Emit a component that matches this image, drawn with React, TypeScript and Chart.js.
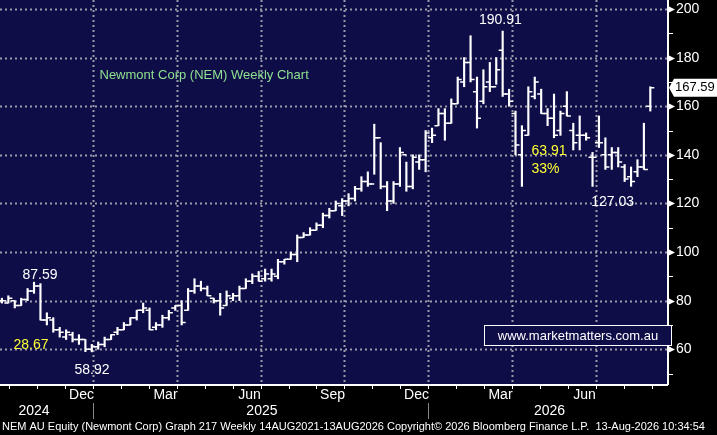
import React, { useEffect, useRef } from "react";
import { Chart, registerables } from "chart.js";
Chart.register(...registerables);

// Weekly OHLC
const highs = [81,82,80,81,85,87.59,87,75,73,69, 68,67,66,64,62,63,65,66,69,71, 73,76,79,77,71,74,76,78,80,85, 89,88,86,81,83,84,83,86,89,91, 92,93,93,97,97,100,107,108,110,112, 116,118,121,122,124, 127,131,133,152.6,145,129,129,143,137,140, 140,150,151,159,159,163,172,180,189,172, 175,178,180,190.91,167,158,152,168,172,167, 159,165,158,166,153,156,149,141,156,147, 143,143,136,135,138,153,168];
const lows = [79,79,77,78,80,83,72,70,67,65, 64,63,62,59,58.92,60,61,64,66,68, 70,72,75,68,68,69,72,76,70,76, 83,84,82,79,74,78,80,80,85,87, 88,88,88,89,95,97,96,106,107,109, 110,114,117,115,119, 121,125,127,132,126,117,120,127,125,126, 134,133,145,152,146,153,161,168,170,151, 161,166,169,164,160,140,127,148,163,157, 152,147,148,156,142,142,146,127,143,134, 134,135,129,127.03,131,134,158];
const opens = [80,79,80,78,80.5,84,86,72,72,68, 65,66,64,64,60,61,62,64,67,68, 70,73,76,76,69,70,73,77,78,76, 84,86,85,81,80,78,81,82,85,88, 90,89,89,90,96,97,99,106,107,109, 111,115,117,119,121, 122,126,129,128,147,127,121,128,140,127, 137,138,147,152,157,153,161,170,178,166, 162,170,168,183,165,157,140,148,164,165, 157,155,150,160,150,148,148,139,145,140, 140,141,135,131,133,135,160];
const closes = [80,81,78,80.5,84,86,72,73,68,67, 67,64,64,60,61,62,64,66,68,70, 73,76,77,68,70,73,75,78,71,84, 86,85,82,80,77,82,82,85,88,90, 88,91,91,96,97,99,106,107,109,111, 115,117,120,121,122, 126,129,128,147,127,121,128,141,127,139, 138,149,148,157,153,161,171,178,171,155, 168,168,175,165,162,144,150,166,170,157, 155,148,157,156,145,148,147,139,145,135, 141,137,130,129,135,134,167.59];
const N = closes.length;
const monthTicks = [1.15,5.5,9.85,14.2,18.55,22.9,27.25,31.6,35.95,40.3,44.65,49,53.35,57.7,62.05,66.4,70.75,75.1,79.45,83.8,88.15,92.5,96.85,101.2];
const monthLabels = ["","","","Dec","","","Mar","","","Jun","","","Sep","","","Dec","","","Mar","","","Jun","",""];
const yearLabels = [{ t: "2024", x: 5 }, { t: "2025", x: 40.5 }, { t: "2026", x: 85.3 }];
const yearSeps = [14.2, 66.4];
const yTicks = [60, 80, 100, 120, 140, 160, 180, 200];

const F = "'Liberation Sans', Arial, sans-serif";

export default function App() {
  const ref = useRef<HTMLCanvasElement>(null);
  useEffect(() => {
    document.body.style.margin = "0";
    const idx = Array.from({ length: N }, (_, i) => i);
    const plugin = {
      id: "ohlc",
      beforeDraw(c: any) {
        const { ctx, chartArea: a } = c;
        ctx.save();
        ctx.fillStyle = "#000";
        ctx.fillRect(0, 0, c.width, c.height);
        ctx.fillStyle = "#0e0d48";
        ctx.fillRect(a.left, a.top, a.right - a.left, a.bottom - a.top);
        const xs = c.scales.x, ys = c.scales.y;
        ctx.strokeStyle = "#9a9aa8";
        ctx.lineWidth = 2;
        ctx.setLineDash([2, 3]);
        yTicks.forEach((v) => {
          const y = Math.round(ys.getPixelForValue(v)) + 0.5;
          ctx.beginPath(); ctx.moveTo(a.left, y); ctx.lineTo(a.right, y); ctx.stroke();
        });
        monthTicks.forEach((m, i) => {
          if (!monthLabels[i]) return;
          const x = Math.round(xs.getPixelForValue(m)) + 0.5;
          ctx.beginPath(); ctx.moveTo(x, a.top); ctx.lineTo(x, a.bottom); ctx.stroke();
        });
        ctx.restore();
      },
      afterDatasetsDraw(c: any) {
        const { ctx, chartArea: a } = c;
        const xs = c.scales.x, ys = c.scales.y;
        ctx.save();
        ctx.strokeStyle = "#fff";
        ctx.lineWidth = 1.5;
        idx.forEach((i) => {
          const x = xs.getPixelForValue(i);
          const yo = ys.getPixelForValue(opens[i]);
          const yc = ys.getPixelForValue(closes[i]);
          ctx.beginPath();
          ctx.moveTo(x - 4, yo); ctx.lineTo(x, yo);
          ctx.moveTo(x, yc); ctx.lineTo(x + 4, yc);
          ctx.stroke();
        });
        ctx.lineWidth = 2;
        ctx.beginPath();
        ctx.moveTo(a.left, a.bottom + 1); ctx.lineTo(a.right + 1, a.bottom + 1);
        ctx.moveTo(a.right + 1, 0); ctx.lineTo(a.right + 1, a.bottom + 1);
        ctx.stroke();
        ctx.lineWidth = 1;
        ctx.fillStyle = "#fff";
        ctx.font = "14px " + F;
        ctx.textBaseline = "middle";
        for (let v = 50; v <= 200; v += 10) {
          const y = Math.round(ys.getPixelForValue(v)) + 0.5;
          ctx.beginPath(); ctx.moveTo(a.right, y); ctx.lineTo(a.right + 6, y); ctx.stroke();
          if (yTicks.includes(v)) {
            ctx.beginPath(); ctx.moveTo(a.right + 2, y - 3); ctx.lineTo(a.right + 8, y); ctx.lineTo(a.right + 2, y + 3); ctx.fill();
            ctx.textAlign = "left";
            ctx.fillText(String(v), a.right + 9, y);
          }
        }
        const lp = closes[N - 1];
        const yp = ys.getPixelForValue(lp);
        ctx.fillStyle = "#fff";
        ctx.beginPath();
        ctx.moveTo(a.right + 2, yp); ctx.lineTo(a.right + 7, yp - 9); ctx.lineTo(717, yp - 9); ctx.lineTo(717, yp + 9); ctx.lineTo(a.right + 7, yp + 9); ctx.closePath(); ctx.fill();
        ctx.fillStyle = "#000";
        ctx.font = "13px " + F;
        ctx.fillText(lp.toFixed(2), a.right + 8, yp);
        ctx.font = "14px " + F;
        ctx.strokeStyle = "#fff";
        ctx.fillStyle = "#fff";
        ctx.textAlign = "center";
        monthTicks.forEach((m, i) => {
          const x = Math.round(xs.getPixelForValue(m)) + 0.5;
          ctx.beginPath(); ctx.moveTo(x, a.bottom + 1); ctx.lineTo(x, a.bottom + 5); ctx.stroke();
          if (monthLabels[i]) ctx.fillText(monthLabels[i], x - 12, a.bottom + 11);
        });
        yearLabels.forEach((y) => ctx.fillText(y.t, xs.getPixelForValue(y.x), a.bottom + 27));
        ctx.strokeStyle = "#888";
        yearSeps.forEach((s) => {
          const x = Math.round(xs.getPixelForValue(s)) + 0.5;
          ctx.beginPath(); ctx.moveTo(x, a.bottom + 19); ctx.lineTo(x, a.bottom + 35); ctx.stroke();
        });
        ctx.textAlign = "left";
        ctx.font = "11px " + F;
        ctx.fillText("NEM AU Equity (Newmont Corp) Graph 217 Weekly 14AUG2021-13AUG2026 Copyright\u00a9 2026 Bloomberg Finance L.P.  13-Aug-2026 10:34:54", 2, 427);
        const t = (s: string, xi: number, v: number, col: string) => { ctx.fillStyle = col; ctx.fillText(s, xs.getPixelForValue(xi), ys.getPixelForValue(v)); };
        ctx.font = "13px " + F;
        t("Newmont Corp (NEM) Weekly Chart", 15.2, 172.5, "#8fe08f");
        ctx.font = "14px " + F;
        t("87.59", 3.2, 90.5, "#fff");
        t("28.67", 1.8, 61.5, "#ffff33");
        t("58.92", 11.3, 51.5, "#fff");
        t("190.91", 74.3, 195.5, "#fff");
        t("63.91", 82.5, 141.5, "#ffff33");
        t("33%", 82.5, 134, "#ffff33");
        t("127.03", 91.8, 120.5, "#fff");
        ctx.fillStyle = "#0e0d48";
        ctx.fillRect(484, 325, 188, 21);
        ctx.strokeStyle = "#fff";
        ctx.strokeRect(484.5, 325.5, 187, 20);
        ctx.fillStyle = "#fff";
        ctx.font = "13px " + F;
        ctx.textAlign = "center";
        ctx.fillText("www.marketmatters.com.au", 578, 336);
        ctx.restore();
      },
    };
    const chart = new Chart(ref.current!, {
      type: "bar",
      data: {
        datasets: [{
          data: idx.map((i) => ({ x: i, y: [lows[i], highs[i]] })) as any,
          backgroundColor: "#fff",
          barThickness: 1.5,
        }],
      },
      options: {
        animation: false,
        responsive: true,
        maintainAspectRatio: false,
        layout: { padding: { left: 0, right: 50, top: 0, bottom: 51 } },
        plugins: { legend: { display: false }, tooltip: { enabled: false } },
        scales: {
          x: { type: "linear", min: -0.3, max: 103.6, offset: false, display: false },
          y: { min: 45.7, max: 203.7, display: false },
        },
      },
      plugins: [plugin],
    });
    return () => chart.destroy();
  }, []);
  return (
    <div style={{ width: 717, height: 435 }}>
      <canvas ref={ref} />
    </div>
  );
}
